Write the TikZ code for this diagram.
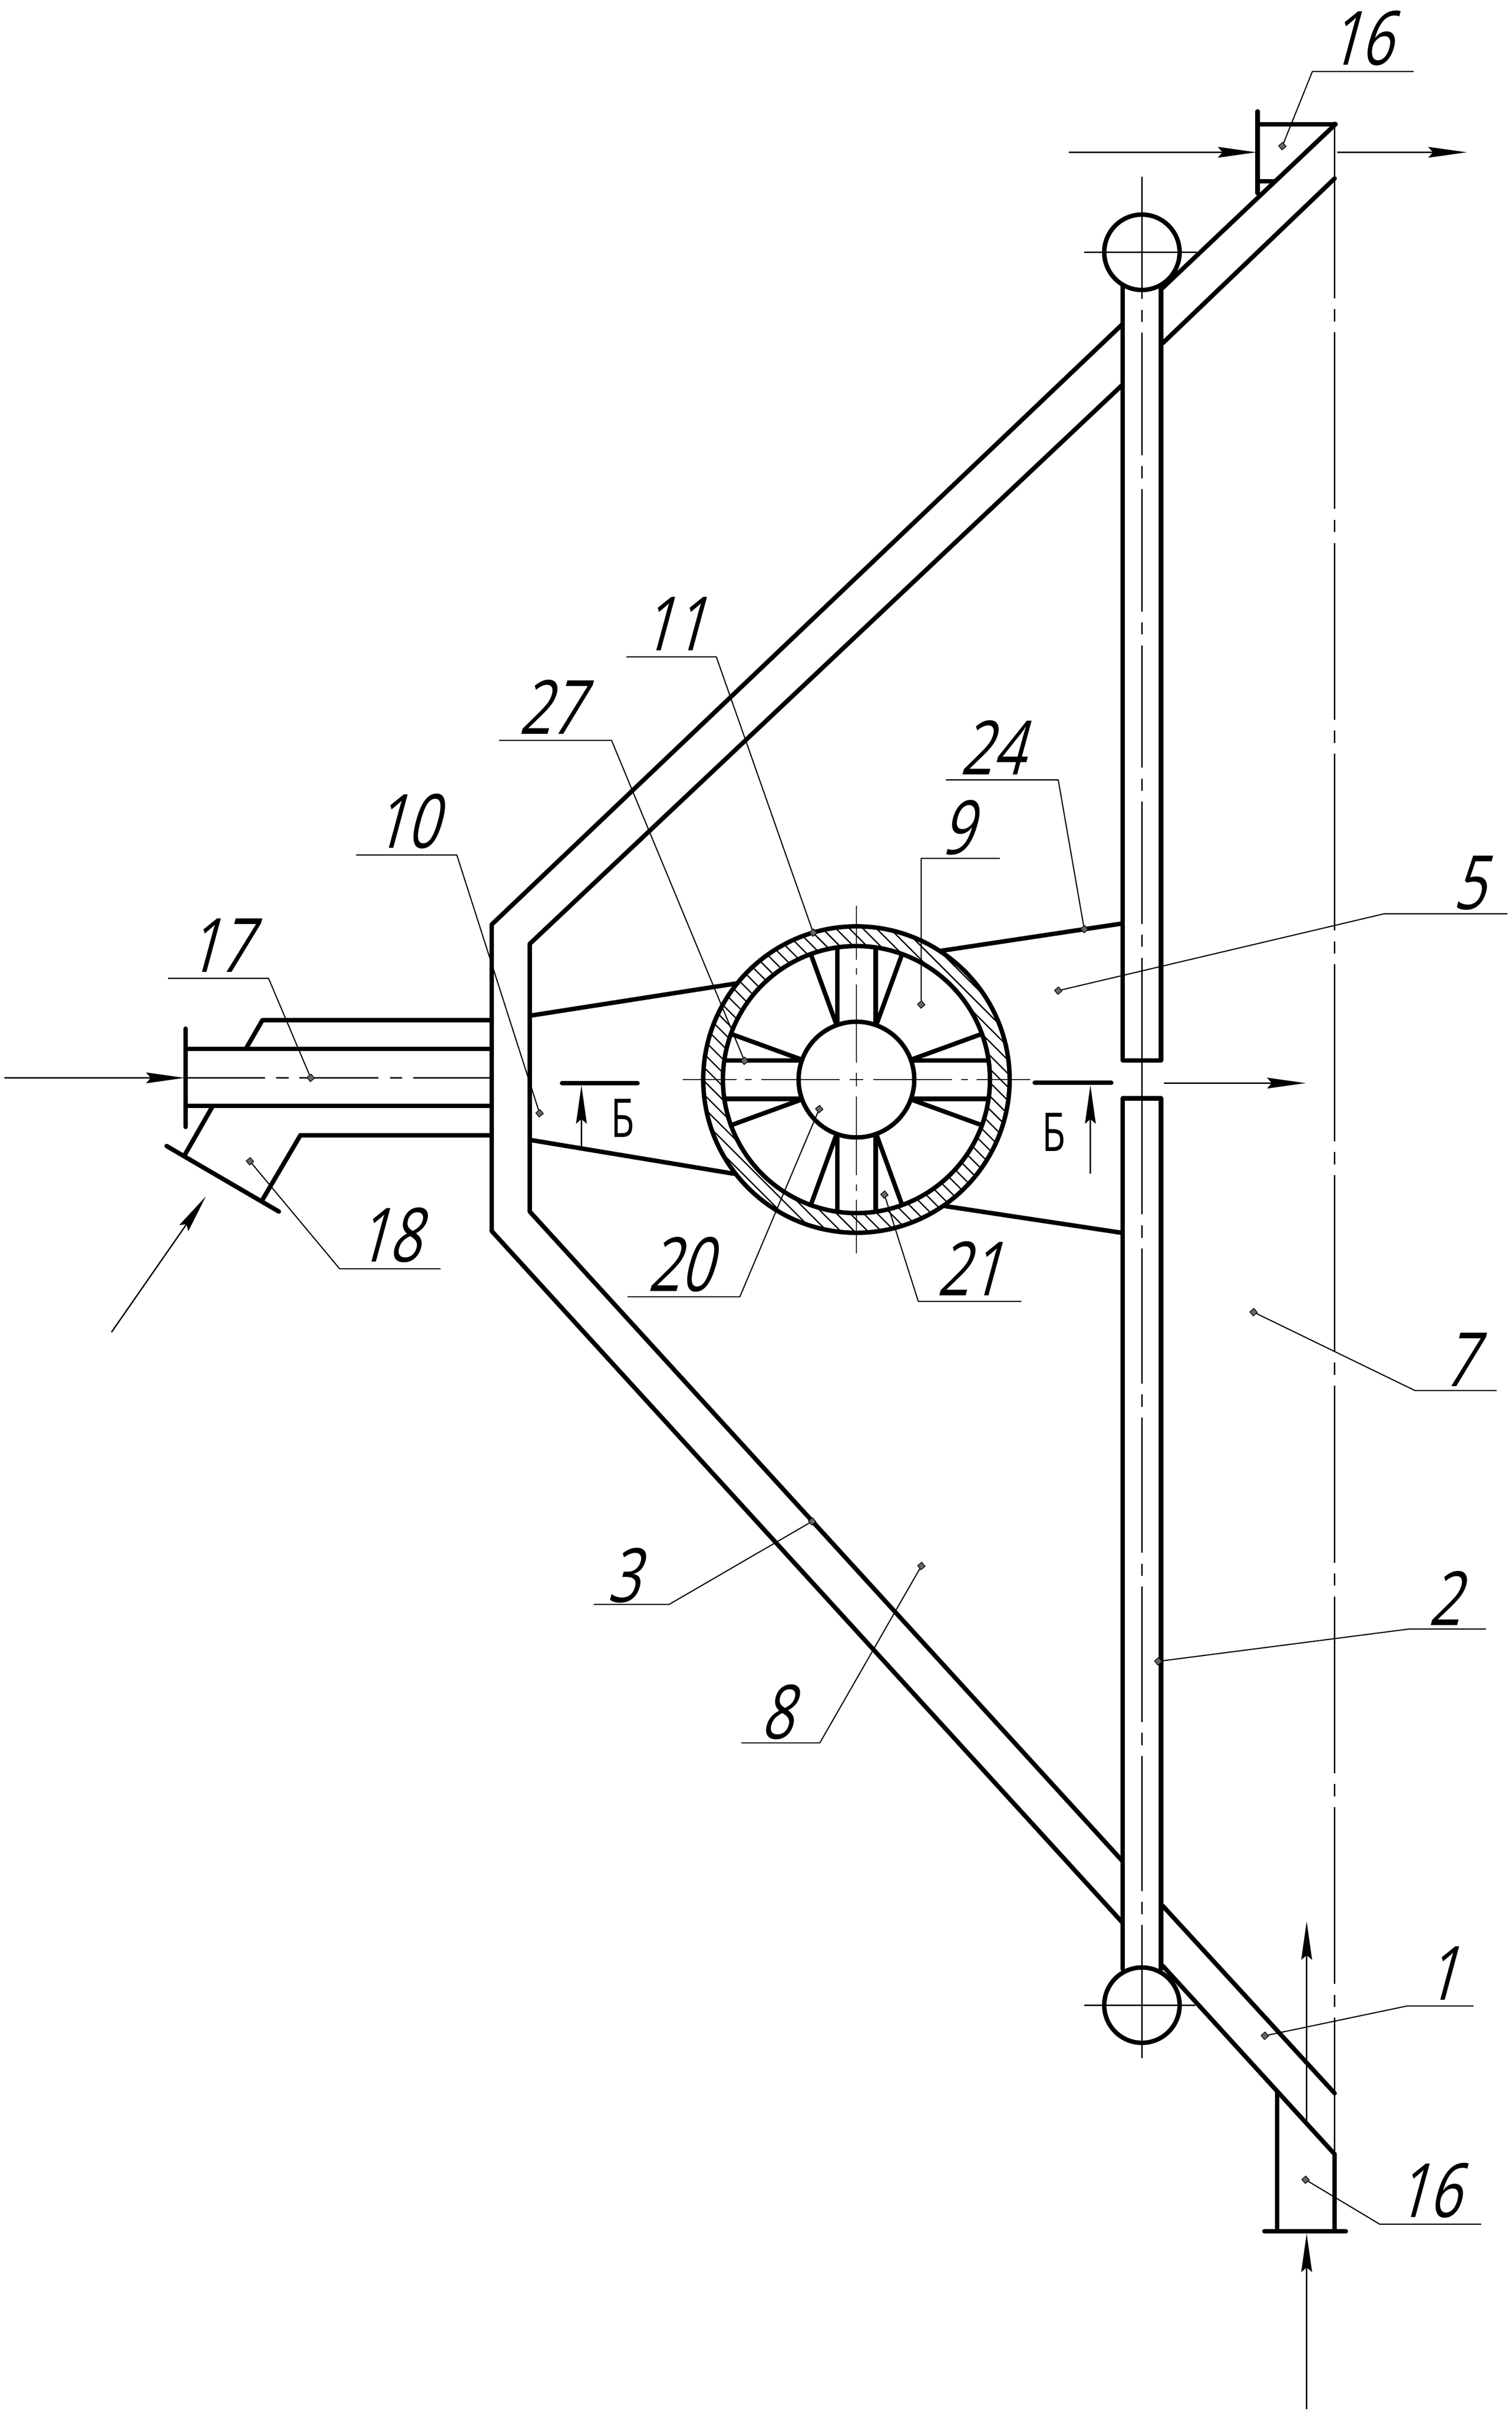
\documentclass[tikz,border=0pt]{standalone}
\usepackage{fontspec}
\newfontfamily\gostnum[FakeSlant=0.27,FakeStretch=0.75]{Open Sans}
\newfontfamily\gostup[FakeStretch=0.72]{Open Sans}
\usetikzlibrary{arrows.meta}
\tikzset{
	wall/.style={line width=1.65pt,line cap=round,line join=round},
	fine/.style={line width=0.48pt},
	leader/.style={line width=0.42pt},
	flow/.style={line width=0.5pt,-{Stealth[length=0.5cm,width=0.14cm,inset=0.06cm]}},
	numlabel/.style={inner sep=0pt,xshift=-0.08cm,yshift=-0.02cm,font=\gostnum\fontsize{27.7}{30}\selectfont},
	seclabel/.style={inner sep=0pt,font=\gostup\fontsize{19.8}{22}\selectfont},
	leaderdot/.style={draw,fill=black!60,rectangle,inner sep=0pt,minimum size=0.07cm,rotate=40,line width=0.25pt},
}
\begin{document}
\begin{tikzpicture}[x=0.02cm,y=-0.02cm,>=stealth,line join=round]
		\useasboundingbox (0,0) rectangle (982.9,1569.3);
		\def\cx{556.8} \def\cy{701.8}
		\def\tl{729.9} \def\tr{754.8} \def\tc{742.4}
		% hatched ring
		\begin{scope}
		\clip (\cx,\cy) circle (99.6);
		\foreach \h in {-144,-135.2,...,144}
		\draw[fine] (\cx+\h-105,\cy-105)--(\cx+\h+105,\cy+105);
		\end{scope}
		\fill[white] (\cx,\cy) circle (86.8);
		\draw[wall] (\cx,\cy) circle (99.6) (\cx,\cy) circle (86.8) (\cx,\cy) circle (37.6);
		% spokes and centre lines of the ring
		\begin{scope}[shift={(\cx,\cy)}]
		\draw[fine] (-4.5,0)--(4.5,0) (0,-4.5)--(0,4.5);
		\foreach \a in {0,90,180,270}{
			\begin{scope}[rotate=\a]
			\draw[wall] (35.5,-12.5)--(85.9,-12.5) (35.5,12.5)--(85.9,12.5);
			\draw[wall] (20:37.6)--(20:86.8) (-20:37.6)--(-20:86.8);
			\draw[fine] (11,0)--(62,0) (68,0)--(72.5,0) (78,0)--(113,0);
			\end{scope}
		}
		\end{scope}
		% body
		\draw[wall] (729.9,210.6)--(319.7,601)--(319.7,800.3)--(\tl,1250);
		\draw[wall] (\tl,250)--(344.4,613.6)--(344.4,787.6)--(\tl,1210);
		\draw[wall] (868.3,80.7)--(755.3,187.7) (867.7,116)--(756,223);
		\draw[wall] (756,1239)--(867.7,1360.8) (756,1278)--(867.7,1400.4);
		% tube
		\draw[wall] (\tl,186)--(\tl,689.3)--(\tr,689.3)--(\tr,186);
		\draw[wall] (\tl,1280)--(\tl,714)--(\tr,714)--(\tr,1280);
		\draw[wall] (\tc,164) circle (24.5) (\tc,1303.5) circle (24.5);
		\draw[fine] (705,164)--(778,164) (705,1303.5)--(777,1303.5);
		\draw[fine,dash pattern=on 1.592cm off 0.14cm on 0.16cm off 0.14cm] (\tc,114.8)--(\tc,615.6);
		\draw[fine] (\tc,622.6)--(\tc,789.4) (\tc,796.7)--(\tc,804.8);
		\draw[fine,dash pattern=on 1.76cm off 0.14cm on 0.16cm off 0.14cm] (\tc,811.5)--(\tc,1338);
		\draw[fine,dash pattern=on 2.3cm off 0.14cm on 0.16cm off 0.14cm] (867.7,79)--(867.7,1400);
		% ties to the ring
		\draw[wall] (344.4,660.3)--(479.4,639.2) (344.4,741)--(477,763);
		\draw[wall] (611.2,618.2)--(\tl,600.3) (614.7,784.1)--(\tl,801.5);
		% top branch
		\draw[wall] (817.6,72.4)--(817.6,125.6) (817.6,80.7)--(868.3,80.7) (817.6,117.8)--(828,117.8);
		% bottom branch
		\draw[wall] (830.3,1360.4)--(830.3,1450.5) (867.7,1400.4)--(867.7,1450.5) (822,1450.5)--(875,1450.5);
		% left pipes
		\draw[wall] (120.6,668.7)--(120.6,732.6);
		\draw[wall] (120.6,681.9)--(319.7,681.9) (120.6,719)--(319.7,719);
		\draw[wall] (159.8,681.9)--(170.6,663.2)--(319.7,663.2);
		\draw[wall] (319.7,738)--(195.3,738)--(170.6,780);
		\draw[wall] (138.3,719)--(120,751) (108.3,745)--(181.3,787.6);
		\draw[fine,dash pattern=on 1.032cm off 0.148cm on 0.16cm off 0.14cm] (120.6,700.7)--(319.7,700.7);
		% section marks
		\draw[wall] (365.4,704.2)--(414.5,704.2) (672.7,703.9)--(722.5,703.9);
		\draw[flow] (378,745.8)--(378,705.5);
		\draw[flow] (708.9,762.9)--(708.9,705.5);
		\node[seclabel] (secl) at (405,727) {Б};
		\node[seclabel] (secr) at (685,736) {Б};
		% flows
		\draw[flow] (2.7,700.7)--(120,700.7);
		\draw[flow] (72.5,866)--(133.8,777.8);
		\draw[flow] (756.7,704.1)--(848.8,704.1);
		\draw[flow] (695,99)--(816.8,99);
		\draw[flow] (869.4,99)--(953.6,99);
		\draw[flow] (849.5,1379)--(849.5,1249);
		\draw[flow] (849.5,1566)--(849.5,1452);
		% leaders
		\node[leaderdot] (d16t) at (833.7,95) {};
		\path (853.2,46.5) coordinate (e16t) (919,46.5) coordinate (f16t);
		\draw[leader] (d16t)--(e16t)--(f16t);
		\node[numlabel] (n16t) at (888.4,23.7) {16};
		\node[leaderdot] (d11) at (528.7,606.3) {};
		\path (465.7,427) coordinate (e11) (407.3,427) coordinate (f11);
		\draw[leader] (d11)--(e11)--(f11);
		\node[numlabel] (n11) at (441.7,404.6) {11};
		\node[leaderdot] (d27) at (484,689.6) {};
		\path (397.6,481.3) coordinate (e27) (324.5,481.3) coordinate (f27);
		\draw[leader] (d27)--(e27)--(f27);
		\node[numlabel] (n27) at (362,458.7) {27};
		\node[leaderdot] (d24) at (704.9,604) {};
		\path (688,507) coordinate (e24) (615,507) coordinate (f24);
		\draw[leader] (d24)--(e24)--(f24);
		\node[numlabel] (n24) at (649,485) {24};
		\node[leaderdot] (d9) at (598.9,653) {};
		\path (598.9,558) coordinate (e9) (650,558) coordinate (f9);
		\draw[leader] (d9)--(e9)--(f9);
		\node[numlabel] (n9) at (626,537) {9};
		\node[leaderdot] (d5) at (688,644) {};
		\path (900,594) coordinate (e5) (980,594) coordinate (f5);
		\draw[leader] (d5)--(e5)--(f5);
		\node[numlabel] (n5) at (959,573) {5};
		\node[leaderdot] (d10) at (350.8,723.7) {};
		\path (297,555.8) coordinate (e10) (231.5,555.8) coordinate (f10);
		\draw[leader] (d10)--(e10)--(f10);
		\node[numlabel] (n10) at (268,532.9) {10};
		\node[leaderdot] (d17) at (202,700.7) {};
		\path (174.6,636) coordinate (e17) (109.3,636) coordinate (f17);
		\draw[leader] (d17)--(e17)--(f17);
		\node[numlabel] (n17) at (146.4,613.6) {17};
		\node[leaderdot] (d18) at (162.5,754.9) {};
		\path (220.8,824.8) coordinate (e18) (286.4,824.8) coordinate (f18);
		\draw[leader] (d18)--(e18)--(f18);
		\node[numlabel] (n18) at (256.6,802) {18};
		\node[leaderdot] (d20) at (532.6,721) {};
		\path (481,843) coordinate (e20) (408,843) coordinate (f20);
		\draw[leader] (d20)--(e20)--(f20);
		\node[numlabel] (n20) at (446,821) {20};
		\node[leaderdot] (d21) at (575,776.6) {};
		\path (597,846) coordinate (e21) (664,846) coordinate (f21);
		\draw[leader] (d21)--(e21)--(f21);
		\node[numlabel] (n21) at (634,823.6) {21};
		\node[leaderdot] (d7) at (815,853) {};
		\path (920,904) coordinate (e7) (973,904) coordinate (f7);
		\draw[leader] (d7)--(e7)--(f7);
		\node[numlabel] (n7) at (953,883) {7};
		\node[leaderdot] (d3) at (528,989) {};
		\path (435,1043) coordinate (e3) (386,1043) coordinate (f3);
		\draw[leader] (d3)--(e3)--(f3);
		\node[numlabel] (n3) at (409,1023) {3};
		\node[leaderdot] (d8) at (599,1018) {};
		\path (533,1133) coordinate (e8) (482,1133) coordinate (f8);
		\draw[leader] (d8)--(e8)--(f8);
		\node[numlabel] (n8) at (509,1112) {8};
		\node[leaderdot] (d2) at (753,1080) {};
		\path (916,1059) coordinate (e2) (966,1059) coordinate (f2);
		\draw[leader] (d2)--(e2)--(f2);
		\node[numlabel] (n2) at (943,1038) {2};
		\node[leaderdot] (d1) at (822.3,1323.4) {};
		\path (915,1304) coordinate (e1) (958,1304) coordinate (f1);
		\draw[leader] (d1)--(e1)--(f1);
		\node[numlabel] (n1) at (941,1281.8) {1};
		\node[leaderdot] (d16b) at (848.8,1417) {};
		\path (897,1445.9) coordinate (e16b) (963,1445.9) coordinate (f16b);
		\draw[leader] (d16b)--(e16b)--(f16b);
		\node[numlabel] (n16b) at (932.4,1423) {16};
		\end{tikzpicture}
\end{document}
